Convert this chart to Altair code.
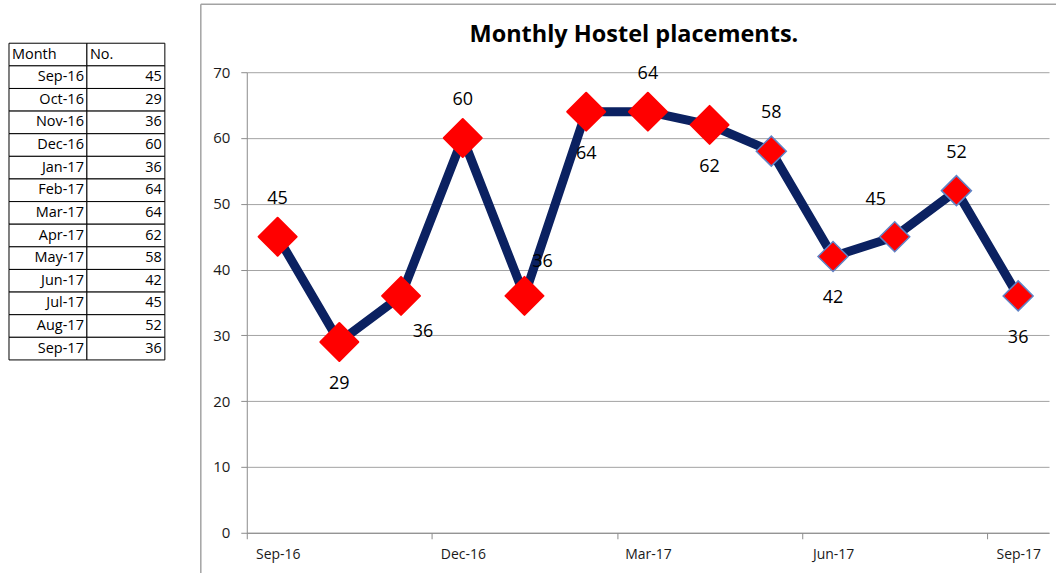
import altair as alt
import pandas as pd

# ---- data ----
months = ["Sep-16", "Oct-16", "Nov-16", "Dec-16", "Jan-17", "Feb-17", "Mar-17",
          "Apr-17", "May-17", "Jun-17", "Jul-17", "Aug-17", "Sep-17"]
placements = [45, 29, 36, 60, 36, 64, 64, 62, 58, 42, 45, 52, 36]
label_side = ["above", "below", "below-right", "above", "above-right", "below", "above",
              "below", "above", "below", "above-left", "above", "below"]
marker_kind = ["large"] * 8 + ["small"] * 5
table_header = ["Month", "No."]
y_tick_values = [0, 10, 20, 30, 40, 50, 60, 70]
x_tick_values = [-0.5, 2.5, 5.5, 8.5, 11.5]   # category boundaries carrying Sep/Dec/Mar/Jun/Sep labels

FONT = "Open Sans"
GRAY = "#a3a3a3"
W, H = 803, 461

df = pd.DataFrame({
    "idx": list(range(len(months))),
    "month": months,
    "value": placements,
    "side": label_side,
    "kind": marker_kind,
})

# ---------------- table ----------------
rows = []
for c, t in enumerate(table_header):
    rows.append(dict(c0=c, c1=c + 1, r0=0, r1=1, rm=0.5, text=t, kind="header"))
for i, (m, v) in enumerate(zip(months, placements)):
    rows.append(dict(c0=0, c1=1, r0=i + 1, r1=i + 2, rm=i + 1.5, text=m, kind="body"))
    rows.append(dict(c0=1, c1=2, r0=i + 1, r1=i + 2, rm=i + 1.5, text=str(v), kind="body"))
tdf = pd.DataFrame(rows)

tx = alt.Scale(domain=[0, 2], range=[0, 156])
ty = alt.Scale(domain=[0, len(months) + 1], range=[-29, 288])

tbase = alt.Chart(tdf)
cells = tbase.mark_rect(fill="white", stroke="black", strokeWidth=1).encode(
    x=alt.X("c0:Q", scale=tx, axis=None), x2="c1:Q",
    y=alt.Y("r0:Q", scale=ty, axis=None), y2="r1:Q",
)
head_txt = tbase.transform_filter(alt.datum.kind == "header").mark_text(
    align="left", baseline="middle", dx=3, font=FONT, fontSize=14.5, color="black"
).encode(x=alt.X("c0:Q", scale=tx, axis=None), y=alt.Y("rm:Q", scale=ty, axis=None), text="text:N")
body_txt = tbase.transform_filter(alt.datum.kind == "body").mark_text(
    align="right", baseline="middle", dx=-3, font=FONT, fontSize=14.5, color="black"
).encode(x=alt.X("c1:Q", scale=tx, axis=None), y=alt.Y("rm:Q", scale=ty, axis=None), text="text:N")

table = alt.layer(cells, head_txt, body_txt).properties(width=156, height=288)

# ---------------- line chart ----------------
label_expr = "[" + ",".join("'%s'" % m for m in months) + "][round(datum.value + 0.5)]"

xs = alt.Scale(domain=[-0.5, len(months) - 0.5], nice=False, zero=False)
ys = alt.Scale(domain=[0, 70], nice=False)

x_enc = alt.X("idx:Q", scale=xs, axis=alt.Axis(
    values=x_tick_values, labelExpr=label_expr, labelOffset=31, title=None, grid=False,
    domainColor="#8c8c8c", tickColor="#8c8c8c", tickSize=6, labelFont=FONT, labelFontSize=14,
    labelColor="#1a1a1a", labelPadding=9, labelFlush=False, labelOverlap=False))
y_enc = alt.Y("value:Q", scale=ys, axis=alt.Axis(
    values=y_tick_values, title=None, grid=True, gridColor=GRAY, gridWidth=1,
    domainColor="#8c8c8c", tickColor="#8c8c8c", tickSize=6, labelFont=FONT, labelFontSize=15,
    labelColor="#1a1a1a", labelPadding=11))

base = alt.Chart(df)

# chart-area frame: only top and left edges fall inside the window
frame_src = alt.Chart(pd.DataFrame({"a": [0]}))
frame_top = frame_src.mark_rule(color=GRAY, strokeWidth=1.5).encode(
    x=alt.value(-46), x2=alt.value(W + 7), y=alt.value(-68))
frame_left = frame_src.mark_rule(color=GRAY, strokeWidth=1.5).encode(
    x=alt.value(-46), y=alt.value(-68), y2=alt.value(H + 41))

line = base.mark_line(color="#0b2161", strokeWidth=9, strokeJoin="round").encode(x=x_enc, y=y_enc)

big = base.transform_filter(alt.datum.kind == "large").mark_point(
    shape="diamond", filled=True, fill="#ff0000", stroke="#ff0000", strokeWidth=2,
    strokeJoin="round", size=1444, opacity=1
).encode(x=x_enc, y=y_enc)
small = base.transform_filter(alt.datum.kind == "small").mark_point(
    shape="diamond", filled=True, fill="#ff0000", stroke="#5f83c6", strokeWidth=1.5,
    size=900, opacity=1
).encode(x=x_enc, y=y_enc)

offsets = {
    "above": (0, -38),
    "below": (0, 42),
    "below-right": (22, 36),
    "above-right": (18, -34),
    "above-left": (-19, -37),
}
labels = []
for side, (ddx, ddy) in offsets.items():
    labels.append(
        base.transform_filter(alt.datum.side == side).mark_text(
            align="center", baseline="middle", dx=ddx, dy=ddy, font=FONT, fontSize=18, color="black"
        ).encode(x=x_enc, y=y_enc, text="value:Q")
    )

plot = alt.layer(frame_top, frame_left, line, big, small, *labels).properties(
    width=W, height=H,
    title=alt.TitleParams("Monthly Hostel placements.", font=FONT, fontSize=23.5, fontWeight="bold",
                          color="black", anchor="middle", frame="group", dx=-14, dy=47),
)

chart = alt.hconcat(table, plot, spacing=34).properties(
    padding={"left": 8, "top": 3, "right": 0, "bottom": 0},
    background="white",
).configure_view(stroke=None)

chart.save("out.html", embed_options={"renderer": "svg", "actions": False})
